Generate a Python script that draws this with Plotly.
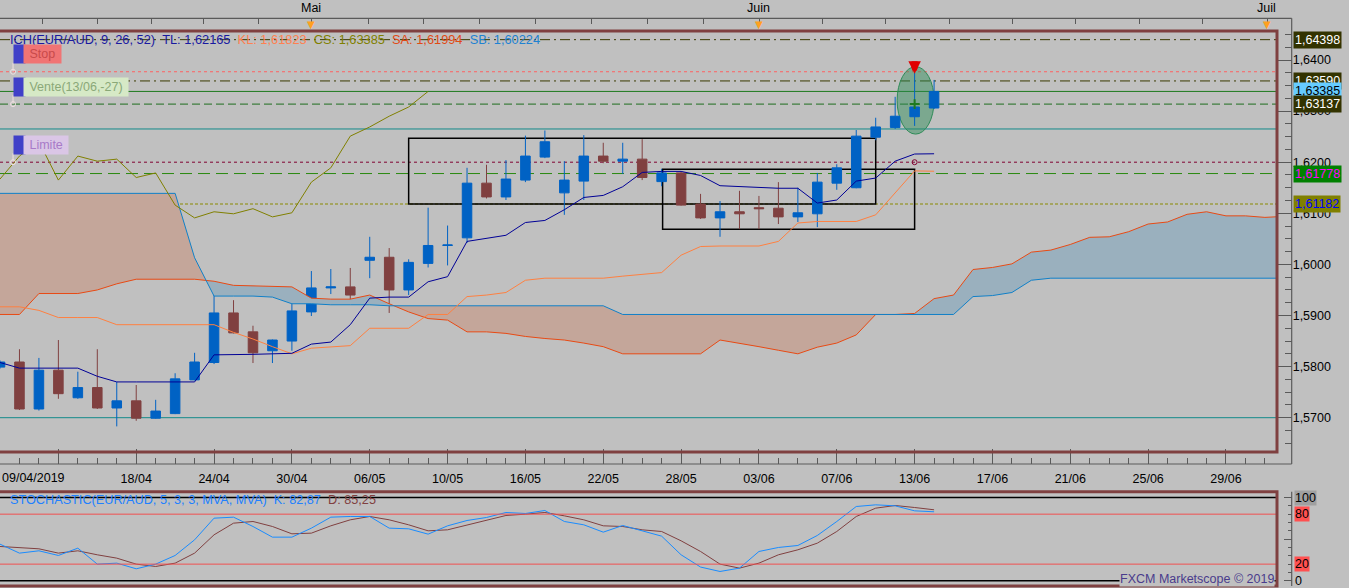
import plotly.graph_objects as go

W, H = 1349, 588

# ---------------- data (daily candles, index 0 = 09/04/2019) ----------------
opens = [1.5799, 1.5809, 1.5717, 1.5793, 1.5739, 1.5759, 1.5719, 1.5733, 1.5699, 1.5708,
         1.5774, 1.5808, 1.5905, 1.5868, 1.5831, 1.5850, 1.5907, 1.5954, 1.5956, 1.6008,
         1.6014, 1.5950, 1.6002, 1.6037, 1.6052, 1.6159, 1.6132, 1.6165, 1.6210, 1.6140,
         1.6163, 1.6212, 1.6202, 1.6206, 1.6162, 1.6179, 1.6118, 1.6091, 1.6103, 1.6111,
         1.6110, 1.6093, 1.6099, 1.6159, 1.6150, 1.6249, 1.6268, 1.6289, 1.6306]
highs = [1.5812, 1.5834, 1.5817, 1.5852, 1.5790, 1.5834, 1.5770, 1.5764, 1.5735, 1.5787,
         1.5827, 1.5958, 1.5930, 1.5880, 1.5853, 1.5946, 1.5987, 1.5991, 1.5993, 1.6054,
         1.6032, 1.6010, 1.6111, 1.6076, 1.6189, 1.6195, 1.6204, 1.6252, 1.6262, 1.6202,
         1.6253, 1.6238, 1.6238, 1.6245, 1.6187, 1.6181, 1.6138, 1.6124, 1.6144, 1.6134,
         1.6161, 1.6150, 1.6179, 1.6196, 1.6263, 1.6287, 1.6328, 1.6375, 1.6361]
lows = [1.5796, 1.5715, 1.5714, 1.5737, 1.5737, 1.5717, 1.5683, 1.5694, 1.5698, 1.5707,
        1.5773, 1.5805, 1.5865, 1.5807, 1.5807, 1.5831, 1.5899, 1.5942, 1.5923, 1.5973,
        1.5905, 1.5940, 1.5994, 1.5998, 1.6042, 1.6129, 1.6126, 1.6161, 1.6208, 1.6097,
        1.6126, 1.6198, 1.6177, 1.6165, 1.6153, 1.6115, 1.6089, 1.6054, 1.6069, 1.6069,
        1.6079, 1.6083, 1.6073, 1.6146, 1.6149, 1.6243, 1.6265, 1.6271, 1.6304]
closes = [1.5809, 1.5717, 1.5793, 1.5747, 1.5759, 1.5719, 1.5733, 1.5699, 1.5713, 1.5776,
          1.5809, 1.5905, 1.5866, 1.5827, 1.5852, 1.5909, 1.5954, 1.5956, 1.5940, 1.6014,
          1.5950, 1.6004, 1.6037, 1.6038, 1.6159, 1.6132, 1.6167, 1.6212, 1.6240, 1.6165,
          1.6212, 1.6202, 1.6206, 1.6170, 1.6179, 1.6116, 1.6091, 1.6103, 1.6099, 1.6109,
          1.6093, 1.6101, 1.6161, 1.6189, 1.6251, 1.6269, 1.6290, 1.6308, 1.63385]

tenkan = [1.5808, 1.5797, 1.5797, 1.5797, 1.5797, 1.5781, 1.5770, 1.5770, 1.5770, 1.5770,
          1.5770, 1.5823, 1.5823, 1.5824, 1.5825, 1.5826, 1.5844, 1.5848, 1.5882, 1.5934,
          1.5936, 1.5936, 1.5966, 1.5976, 1.6045, 1.6051, 1.6057, 1.6082, 1.6086, 1.6107,
          1.6131, 1.6135, 1.6152, 1.6180, 1.6182, 1.6182, 1.6174, 1.6154, 1.6152, 1.6150,
          1.6149, 1.6149, 1.6120, 1.6126, 1.6163, 1.6169, 1.6202, 1.6216, 1.62165]
kijun = [1.5917, 1.5917, 1.5910, 1.5896, 1.5896, 1.5896, 1.5882, 1.5882, 1.5882, 1.5882,
         1.5882, 1.5882, 1.5867, 1.5854, 1.5839, 1.5825, 1.5836, 1.5839, 1.5841, 1.5875,
         1.5875, 1.5875, 1.5902, 1.5902, 1.5937, 1.5940, 1.5945, 1.5969, 1.5973, 1.5973,
         1.5973, 1.5973, 1.5977, 1.5981, 1.5984, 1.6018, 1.6035, 1.6036, 1.6036, 1.6036,
         1.6045, 1.6081, 1.6084, 1.6084, 1.6084, 1.6097, 1.6141, 1.6183, 1.61823]
senkou_a = [1.5902, 1.5902, 1.5943, 1.5943, 1.5943, 1.5950, 1.5962, 1.5971, 1.5971, 1.5971,
            1.5971, 1.5967, 1.5959, 1.5958, 1.5957, 1.5956, 1.5934, 1.5932, 1.5932, 1.5940,
            1.5923, 1.5907, 1.5894, 1.5891, 1.5868, 1.5868, 1.5865, 1.5859, 1.5855, 1.5852,
            1.5846, 1.5839, 1.5825, 1.5825, 1.5825, 1.5825, 1.5825, 1.5852, 1.5846, 1.5839,
            1.5832, 1.5825, 1.5838, 1.5846, 1.5862, 1.5902, 1.5902, 1.5904, 1.5933, 1.5940,
            1.5990, 1.5994, 1.6001, 1.6024, 1.6028, 1.6039, 1.6053, 1.6054, 1.6064, 1.6079,
            1.6083, 1.6098, 1.6103, 1.6095, 1.6095, 1.6092, 1.6094]
senkou_b = [1.6139, 1.6139, 1.6139, 1.6139, 1.6139, 1.6139, 1.6139, 1.6139, 1.6139, 1.6139,
            1.6013, 1.5938, 1.5938, 1.5938, 1.5936, 1.5923, 1.5923, 1.5921, 1.5921, 1.5921,
            1.5919, 1.5919, 1.5919, 1.5919, 1.5919, 1.5919, 1.5919, 1.5919, 1.5919, 1.5919,
            1.5919, 1.5919, 1.5902, 1.5902, 1.5902, 1.5902, 1.5902, 1.5902, 1.5902, 1.5902,
            1.5902, 1.5902, 1.5902, 1.5902, 1.5902, 1.5902, 1.5902, 1.5902, 1.5902, 1.5902,
            1.5937, 1.5939, 1.5945, 1.5969, 1.5973, 1.5973, 1.5973, 1.5973, 1.5973, 1.5973,
            1.5973, 1.5973, 1.5973, 1.5973, 1.5973, 1.5973, 1.5973]
chikou_shift = 26

stoch_k = [44.0, 33.2, 36.0, 30.4, 39.2, 20.0, 21.2, 14.4, 20.0, 30.4,
           49.2, 75.2, 76.4, 65.2, 52.4, 52.4, 63.2, 76.4, 77.2, 77.2,
           63.2, 62.4, 56.0, 66.0, 72.4, 76.0, 82.0, 80.8, 84.4, 71.2,
           67.2, 58.4, 66.4, 60.0, 53.6, 31.2, 16.5, 11.2, 15.2, 35.2,
           40.0, 42.4, 54.4, 71.2, 89.2, 91.2, 90.0, 84.0, 82.87]
stoch_d = [41.2, 40.0, 38.4, 33.2, 36.0, 31.2, 27.2, 20.0, 17.2, 21.2,
           33.2, 55.2, 69.2, 71.2, 65.2, 56.4, 57.2, 66.0, 73.2, 77.2,
           73.2, 67.2, 60.0, 61.2, 67.2, 73.2, 78.4, 80.0, 82.0, 78.0,
           73.2, 66.0, 65.2, 61.2, 59.2, 48.0, 35.2, 20.0, 15.2, 21.2,
           31.2, 37.2, 45.2, 59.2, 77.2, 87.2, 90.4, 88.0, 85.25]
stoch_levels = [0, 20, 80, 100]

# axis labels
date_tick_idx = [3, 7, 11, 15, 19, 23, 27, 31, 35, 39, 43, 47, 51, 55, 59, 63]
date_tick_text = ["", "18/04", "24/04", "30/04", "06/05", "10/05", "16/05", "22/05",
                  "28/05", "03/06", "07/06", "13/06", "17/06", "21/06", "25/06", "29/06"]
first_date_text = "09/04/2019"
month_idx = [16.0, 39.0, 65.1]
month_text = ["Mai", "Juin", "Juil"]
top_tick_idx = [0.04, 2.16, 4.99, 7.76, 10.44, 13.26, 15.99, 18.92, 21.75, 24.63, 27.51,
                30.39, 33.26, 36.14, 39.02, 42.26, 45.5, 48.79, 52.03, 55.27, 58.56,
                61.8, 65.14]

# horizontal levels
level_values = [1.64398, 1.6377, 1.63590, 1.63385, 1.63137, 1.6265, 1.6200, 1.61778, 1.61182, 1.5700]
level_colors = ["#3a3a00", "#ff6060", "#3a3a00", "#1e7a1e", "#1e6e1e", "#138a8a",
                "#800030", "#2a8a10", "#8a8a00", "#138a8a"]
level_dashes = ["10px,4px,2px,4px", "3px,3px", "10px,4px,2px,4px", "solid", "8px,4px",
                "solid", "3px,3px", "12px,6px", "3px,2px", "solid"]

# price tags on the right
tag_values = [1.64398, 1.63590, 1.63385, 1.63137, 1.61778, 1.61182]
tag_bg = ["#333300", "#333300", "#66ccff", "#333300", "#008000", "#808000"]
tag_fg = ["#ffffff", "#ffffff", "#000000", "#ffffff", "#ff00ff", "#0000ff"]

# order labels (Stop / Vente / Limite)
order_text = ["Stop", "Vente(13/06,-27)", "Limite"]
order_price = [1.6377, 1.63137, 1.6200]
order_bg = ["#f07474", "#d6e9c6", "#dac6e6"]
order_fg = ["#c84a4a", "#8aa878", "#a87ac8"]
order_x = 0.67

# zones
zone_x0 = [21.0, 34.05]
zone_x1 = [45.0, 47.0]
zone_lo = [1.6118, 1.6069]
zone_hi = [1.6247, 1.6186]

signal_idx = 47
signal_ellipse = (46.1, 48.0, 1.6255, 1.6387)
signal_arrow_price = 1.6373

legend_tl, legend_kl, legend_cs, legend_sa, legend_sb = "1,62165", "1,61823", "1,63385", "1,61994", "1,60224"
legend_k, legend_d = "82,87", "85,25"

# ---------------- geometry (pixels) ----------------
CANDLE_PX = 19.46
PLOT_R = 1277
MAIN_T, MAIN_B = 31, 452
AX_R = 1291.7
XLINE_Y = 464
TOPLINE_Y = 18.3
STO_T, STO_B = 491.7, 586
Y_TOP_P = 1.64 + (60 - MAIN_T) / 5110
Y_BOT_P = 1.64 - (MAIN_B - 60) / 5110
PPX = (Y_TOP_P - Y_BOT_P) / (MAIN_B - MAIN_T)
X_HI = PLOT_R / CANDLE_PX
STO_LO = -(STO_B - 580.8) / 0.833
STO_HI = 100 + (497.5 - STO_T) / 0.833

FONT = "Liberation Sans"
UP, DN = "#0062c4", "#804040"
BROWN = "#7f4040"
GRAY = "#5a5a5a"
BG = "#c0c0c0"


def py(p):
    return 1 - p / H


def px(p):
    return p / W


idx = list(range(len(closes)))
fut = list(range(len(senkou_a)))


def with_crossings(xs, a, b):
    X, A, B = [xs[0]], [a[0]], [b[0]]
    for k in range(1, len(xs)):
        d0 = a[k - 1] - b[k - 1]
        d1 = a[k] - b[k]
        if d0 * d1 < 0:
            t = d0 / (d0 - d1)
            X.append(xs[k - 1] + t * (xs[k] - xs[k - 1]))
            yc = a[k - 1] + t * (a[k] - a[k - 1])
            A.append(yc)
            B.append(yc)
        X.append(xs[k])
        A.append(a[k])
        B.append(b[k])
    return X, A, B


cx, ca, cb = with_crossings(fut, senkou_a, senkou_b)
cup = [max(u, v) for u, v in zip(ca, cb)]

fig = go.Figure()
nol = dict(width=0)
fig.add_trace(go.Scatter(x=cx, y=cb, mode="lines", line=nol, hoverinfo="skip", showlegend=False))
fig.add_trace(go.Scatter(x=cx, y=cup, mode="lines", line=nol, fill="tonexty",
                         fillcolor="#9ab0be", hoverinfo="skip", showlegend=False))
fig.add_trace(go.Scatter(x=cx, y=ca, mode="lines", line=nol, hoverinfo="skip", showlegend=False))
fig.add_trace(go.Scatter(x=cx, y=cup, mode="lines", line=nol, fill="tonexty",
                         fillcolor="#c4a69a", hoverinfo="skip", showlegend=False))

fig.add_trace(go.Candlestick(
    x=idx, open=opens, high=highs, low=lows, close=closes,
    increasing=dict(line=dict(color=UP, width=1), fillcolor=UP),
    decreasing=dict(line=dict(color=DN, width=1), fillcolor=DN),
    whiskerwidth=0, showlegend=False))

fig.add_trace(go.Scatter(x=fut, y=senkou_a, mode="lines", line=dict(color="#e84a14", width=1), showlegend=False))
fig.add_trace(go.Scatter(x=fut, y=senkou_b, mode="lines", line=dict(color="#1080c8", width=1), showlegend=False))
fig.add_trace(go.Scatter(x=idx, y=kijun, mode="lines", line=dict(color="#ff8040", width=1), showlegend=False))
fig.add_trace(go.Scatter(x=idx, y=tenkan, mode="lines", line=dict(color="#000096", width=1), showlegend=False))
fig.add_trace(go.Scatter(x=[i - chikou_shift for i in idx[chikou_shift:]], y=closes[chikou_shift:],
                         mode="lines", line=dict(color="#808000", width=1), showlegend=False))

# order connectors / markers
fig.add_trace(go.Scatter(x=[order_x] * 3, y=order_price, mode="markers",
                         marker=dict(symbol="circle-open", size=5, color="#f0e0e0", line=dict(width=1)),
                         showlegend=False, hoverinfo="skip"))
fig.add_trace(go.Scatter(x=[signal_idx], y=[order_price[1]], mode="markers",
                         marker=dict(symbol="cross-thin-open", size=7, color="#1e7a1e", line=dict(width=2)),
                         showlegend=False, hoverinfo="skip"))
fig.add_trace(go.Scatter(x=[signal_idx], y=[order_price[2]], mode="markers",
                         marker=dict(symbol="circle-open", size=5, color="#800030", line=dict(width=1)),
                         showlegend=False, hoverinfo="skip"))

# stochastic
fig.add_trace(go.Scatter(x=idx, y=stoch_d, mode="lines", line=dict(color="#804040", width=1),
                         xaxis="x3", yaxis="y2", showlegend=False))
fig.add_trace(go.Scatter(x=idx, y=stoch_k, mode="lines", line=dict(color="#1a8cff", width=1),
                         xaxis="x3", yaxis="y2", showlegend=False))
# top axis holder
fig.add_trace(go.Scatter(x=[month_idx[0]], y=[None], mode="markers", xaxis="x2", yaxis="y",
                         showlegend=False, hoverinfo="skip"))

shapes = []
for v, c, d in zip(level_values, level_colors, level_dashes):
    shapes.append(dict(type="line", xref="x domain", x0=0, x1=1, yref="y", y0=v, y1=v,
                       line=dict(color=c, width=1, dash=d), layer="below"))
for a0, a1, lo, hi in zip(zone_x0, zone_x1, zone_lo, zone_hi):
    shapes.append(dict(type="rect", xref="x", yref="y", x0=a0, x1=a1, y0=lo, y1=hi,
                       line=dict(color="#000000", width=1.5), layer="below"))
e = signal_ellipse
shapes.append(dict(type="circle", xref="x", yref="y", x0=e[0], x1=e[1], y0=e[2], y1=e[3],
                   fillcolor="rgba(40,140,85,0.45)", line=dict(color="#2e8b57", width=1), layer="below"))
for p in order_price:
    shapes.append(dict(type="line", xref="x", yref="y", x0=order_x, x1=order_x, y0=p, y1=p + 9 * PPX,
                       line=dict(color="#f0e0e0", width=1)))
# stochastic reference lines
for v in stoch_levels:
    col = "#000000" if v in (0, 100) else "#f05050"
    shapes.append(dict(type="line", xref="x3 domain", x0=0, x1=1, yref="y2", y0=v, y1=v,
                       line=dict(color=col, width=1.5 if v in (0, 100) else 1)))
# frames
shapes.append(dict(type="rect", xref="paper", yref="paper", x0=-0.01, x1=px(PLOT_R),
                   y0=py(MAIN_B), y1=py(MAIN_T), line=dict(color=BROWN, width=3)))
shapes.append(dict(type="rect", xref="paper", yref="paper", x0=-0.01, x1=px(PLOT_R),
                   y0=py(STO_B), y1=py(STO_T), line=dict(color=BROWN, width=3)))
# axis rails
shapes.append(dict(type="line", xref="paper", yref="paper", x0=0, x1=px(AX_R), y0=py(TOPLINE_Y),
                   y1=py(TOPLINE_Y), line=dict(color=GRAY, width=1.2)))
shapes.append(dict(type="line", xref="paper", yref="paper", x0=px(AX_R), x1=px(AX_R), y0=py(XLINE_Y),
                   y1=py(TOPLINE_Y), line=dict(color=GRAY, width=1.2)))
shapes.append(dict(type="line", xref="paper", yref="paper", x0=0, x1=px(AX_R), y0=py(XLINE_Y),
                   y1=py(XLINE_Y), line=dict(color=GRAY, width=1.2)))
shapes.append(dict(type="line", xref="paper", yref="paper", x0=px(AX_R), x1=px(AX_R), y0=py(STO_B),
                   y1=py(STO_T), line=dict(color=GRAY, width=1.2)))

ann = []
f12 = dict(family=FONT, size=12.5, color="#000000")
# legend lines
ich = ("ICH(EUR/AUD, 9, 26, 52)\u00a0\u00a0TL: " + legend_tl + "\u00a0\u00a0"
       + "<span style='color:#ff8050'>KL: " + legend_kl + "</span>\u00a0\u00a0"
       + "<span style='color:#808000'>CS: " + legend_cs + "</span>\u00a0\u00a0"
       + "<span style='color:#e04a14'>SA: " + legend_sa + "</span>\u00a0\u00a0"
       + "<span style='color:#1e82d2'>SB: " + legend_sb + "</span>")
ann.append(dict(text=ich, xref="paper", yref="paper", x=px(8), y=py(39), xanchor="left",
                yanchor="middle", showarrow=False, font=dict(family=FONT, size=12.8, color="#1a1aa0")))
sto = ("STOCHASTIC(EUR/AUD, 5, 3, 3, MVA, MVA)\u00a0\u00a0K: " + legend_k + "\u00a0\u00a0"
       + "<span style='color:#804040'>D: " + legend_d + "</span>")
ann.append(dict(text=sto, xref="paper", yref="paper", x=px(8), y=py(500), xanchor="left",
                yanchor="middle", showarrow=False, font=dict(family=FONT, size=12.7, color="#2080ff")))
ann.append(dict(text="FXCM Marketscope \u00a9 2019", xref="paper", yref="paper", x=px(1275), y=py(579),
                xanchor="right", yanchor="middle", showarrow=False, bgcolor=BG, borderpad=0,
                font=dict(family=FONT, size=12.5, color="#4a3c8c")))
ann.append(dict(text=first_date_text, xref="paper", yref="paper", x=px(0), y=py(478), xanchor="left",
                yanchor="middle", showarrow=False, font=f12))
# months and markers
for m, t in zip(month_idx, month_text):
    ann.append(dict(text=t, xref="x", yref="paper", x=m, y=py(8), xanchor="center", yanchor="middle",
                    showarrow=False, font=f12))
    ann.append(dict(text="\u25bc", xref="x", yref="paper", x=m, y=py(24), xanchor="center",
                    yanchor="middle", showarrow=False, font=dict(family="DejaVu Sans", size=10, color="#ffa020")))
# right price tags
for v, bg, fg in zip(tag_values, tag_bg, tag_fg):
    ann.append(dict(text=("%.5f" % v).replace(".", ","), xref="paper", yref="y", x=px(1293), y=v,
                    xanchor="left", yanchor="middle", showarrow=False, bgcolor=bg, borderpad=1,
                    font=dict(family=FONT, size=12.5, color=fg)))
# stochastic tags
sto_bg = {0: None, 20: "#ff5050", 80: "#ff5050", 100: "#a0a0a0"}
for v in stoch_levels:
    d = dict(text=str(v), xref="paper", yref="y2", x=px(1294), y=v, xanchor="left", yanchor="middle",
             showarrow=False, borderpad=0, font=f12)
    if sto_bg[v]:
        d["bgcolor"] = sto_bg[v]
    ann.append(d)
# order labels
for t, p, bg, fg in zip(order_text, order_price, order_bg, order_fg):
    ann.append(dict(text="\u00a0\u00a0", xref="x", yref="y", x=order_x, y=p, yshift=17.5, xanchor="left",
                    yanchor="middle", showarrow=False, bgcolor="#4040c8", borderpad=2,
                    font=dict(family=FONT, size=12.5, color="#4040c8")))
    ann.append(dict(text="\u00a0" + t + "\u00a0", xref="x", yref="y", x=order_x, y=p, yshift=17.5, xshift=10,
                    xanchor="left", yanchor="middle", showarrow=False, bgcolor=bg, borderpad=2,
                    font=dict(family=FONT, size=12.5, color=fg)))
# signal arrow: shaft + head
ann.append(dict(text="", x=signal_idx, y=signal_arrow_price, xref="x", yref="y", showarrow=True,
                ax=0, ay=-14, arrowhead=0, arrowwidth=6, arrowcolor="#d81010",
                standoff=5))
ann.append(dict(text="", x=signal_idx, y=signal_arrow_price, xref="x", yref="y", showarrow=True,
                ax=0, ay=-8, arrowhead=2, arrowsize=0.5, arrowwidth=5, arrowcolor="#e00000"))

fig.update_layout(
    width=W, height=H, margin=dict(l=0, r=0, t=0, b=0),
    paper_bgcolor=BG, plot_bgcolor=BG, separators=",.",
    font=dict(family=FONT, size=12, color="#000000"),
    showlegend=False, shapes=shapes, annotations=ann, hovermode=False,
    xaxis=dict(domain=[0, px(PLOT_R)], range=[0, X_HI], anchor="free", position=py(XLINE_Y),
               tickmode="array", tickvals=date_tick_idx, ticktext=date_tick_text,
               ticks="inside", ticklen=15, tickcolor=GRAY, showgrid=False, zeroline=False,
               showline=False, tickfont=f12, ticklabelstandoff=5,
               minor=dict(dtick=1, tick0=0, ticks="inside", ticklen=6, tickcolor=GRAY, showgrid=False),
               rangeslider=dict(visible=False)),
    xaxis2=dict(overlaying="x", range=[0, X_HI], anchor="free", position=py(TOPLINE_Y), side="top",
                tickmode="array", tickvals=top_tick_idx, ticks="inside", ticklen=5, tickcolor=GRAY,
                showticklabels=False, showgrid=False, zeroline=False, showline=False),
    xaxis3=dict(domain=[0, px(PLOT_R)], range=[0, X_HI], anchor="y2", visible=False),
    yaxis=dict(domain=[py(MAIN_B), py(MAIN_T)], range=[Y_BOT_P, Y_TOP_P], anchor="free",
               position=px(AX_R), side="right", tick0=1.57, dtick=0.01, tickformat=".4f",
               ticks="inside", ticklen=14, tickcolor=GRAY, showgrid=False, zeroline=False,
               showline=False, tickfont=f12,
               minor=dict(dtick=0.0025, tick0=1.57, ticks="inside", ticklen=7, tickcolor=GRAY, showgrid=False)),
    yaxis2=dict(domain=[py(STO_B), py(STO_T)], range=[STO_LO, STO_HI], anchor="free",
                position=px(AX_R), side="right", tickmode="array", tickvals=[0, 50, 100],
                ticks="inside", ticklen=8, tickcolor=GRAY, showticklabels=False, showgrid=False,
                zeroline=False, showline=False,
                minor=dict(dtick=10, tick0=0, ticks="inside", ticklen=4, tickcolor=GRAY, showgrid=False)),
)

fig.write_html("out.html", config={"displayModeBar": False},
               post_script="document.body.style.margin='0';document.body.style.overflow='hidden';")
